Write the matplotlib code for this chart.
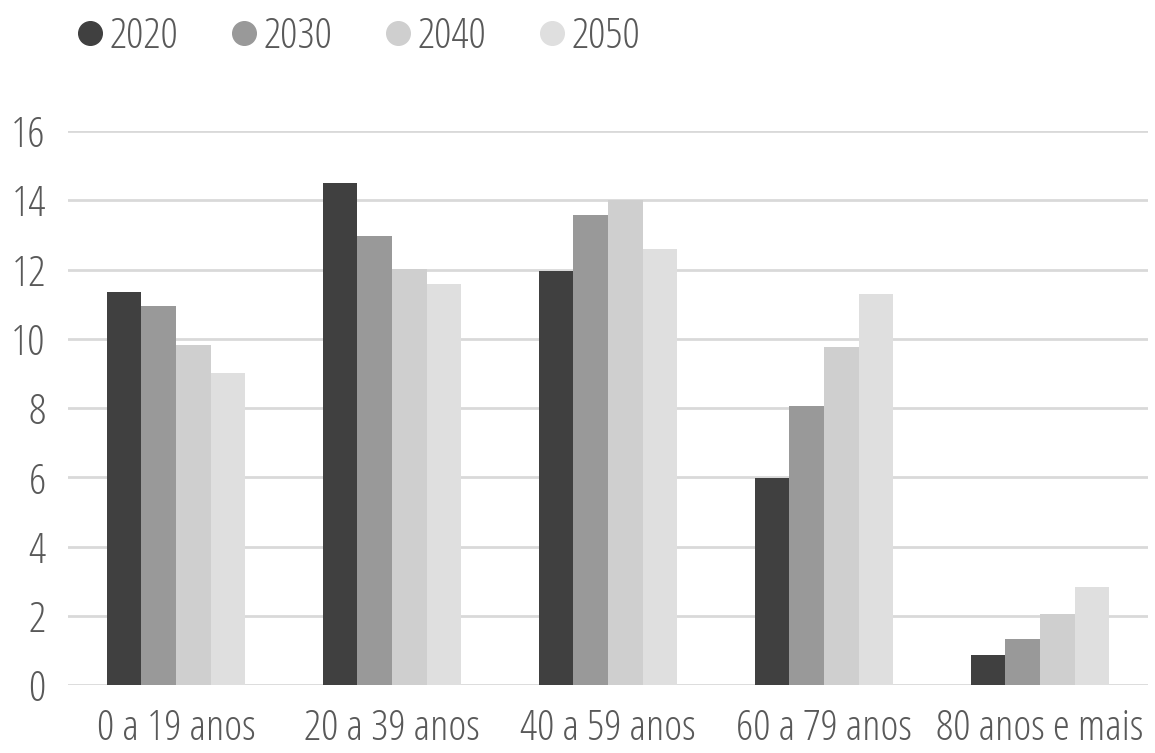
import numpy as np
import matplotlib.pyplot as plt
from matplotlib.lines import Line2D

# Open Sans Condensed Light, falls back to regular Open Sans
plt.rcParams['font.family'] = ['Open Sans', 'DejaVu Sans']
plt.rcParams['font.stretch'] = 'condensed'
plt.rcParams['font.weight'] = 300

categorias = ['0 a 19 anos', '20 a 39 anos', '40 a 59 anos', '60 a 79 anos', '80 anos e mais']
anos = ['2020', '2030', '2040', '2050']
v2020 = [11.35, 14.5, 11.95, 5.98, 0.87]
v2030 = [10.95, 12.97, 13.57, 8.06, 1.33]
v2040 = [9.82, 12.01, 14.01, 9.76, 2.05]
v2050 = [9.01, 11.58, 12.59, 11.29, 2.83]
series = [v2020, v2030, v2040, v2050]
cores = ['#404040', '#999999', '#cfcfcf', '#dfdfdf']

fig = plt.figure(figsize=(11.55, 7.53), dpi=100)
ax = fig.add_axes([68/1155, 68/753, 1080/1155, 554/753])

x = np.arange(len(categorias))
w = 0.16
for i, (vals, c) in enumerate(zip(series, cores)):
    ax.bar(x + (i - 1.5) * w, vals, w, color=c, zorder=3)

ax.set_xlim(-0.5, len(categorias) - 0.5)
ax.set_ylim(0, 16)
ax.set_yticks(range(0, 17, 2))
ax.grid(axis='y', color='#d9d9d9', linewidth=2, zorder=0)
ax.set_xticks(x)
ax.set_xticklabels(categorias)
ax.tick_params(length=0, labelsize=31, labelcolor='#595959')
ax.tick_params(axis='y', pad=16)
ax.tick_params(axis='x', pad=16)
for s in ax.spines.values():
    s.set_visible(False)

handles = [Line2D([], [], marker='o', linestyle='', markersize=17, color=c) for c in cores]
fig.legend(handles, anos, loc='upper left', bbox_to_anchor=(30/1155, 1.031), ncol=4,
           frameon=False, fontsize=31, labelcolor='#595959', handletextpad=-0.05,
           columnspacing=1.03, handlelength=1.0)

fig.savefig('out.png', dpi=100)
